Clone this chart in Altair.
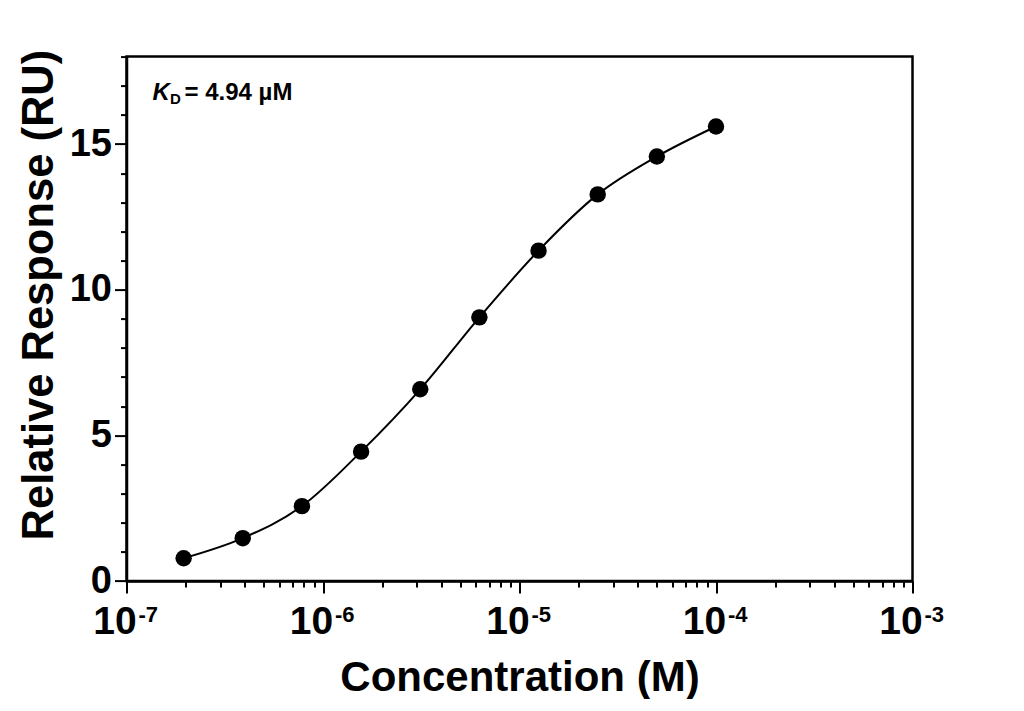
import altair as alt
import pandas as pd

# ---- data ----
conc_M = [1.953e-7, 3.906e-7, 7.8125e-7, 1.5625e-6, 3.125e-6,
          6.25e-6, 1.25e-5, 2.5e-5, 5e-5, 1e-4]
response_RU = [0.78, 1.47, 2.57, 4.44, 6.58, 9.05, 11.34, 13.27, 14.57, 15.6]

x_major = [1e-7, 1e-6, 1e-5, 1e-4, 1e-3]
x_exponents = ["-7", "-6", "-5", "-4", "-3"]
x_minor = [k * m for m in [1e-7, 1e-6, 1e-5, 1e-4] for k in range(2, 10)]
y_ticks = list(range(0, 19))

kd_main = ["K"]
kd_sub = ["D"]
kd_rest = ["= 4.94 µM"]

FONT = "Liberation Sans"
W, H = 786, 524.4

df = pd.DataFrame({"conc": conc_M, "resp": response_RU})
ticks_df = pd.DataFrame({"v": x_major, "e": x_exponents})

is_decade = "abs(log(datum.value)/LN10 - round(log(datum.value)/LN10)) < 0.001"

xscale = alt.Scale(type="log", domain=[1e-7, 1e-3], nice=False)
yscale = alt.Scale(domain=[0, 18], nice=False, zero=True)

xaxis = alt.Axis(
    values=sorted(x_major + x_minor),
    title="Concentration (M)",
    titleFontSize=42, titleFont=FONT, titleFontWeight="bold", titleColor="black",
    titleBaseline="alphabetic", titleY=109, titleX=W / 2,
    labelExpr=f"({is_decade}) ? '10' : ''",
    labelFontSize=39, labelFont=FONT, labelFontWeight="bold", labelColor="black",
    labelBaseline="alphabetic", labelPadding=40, labelOffset=-12,
    labelFlush=False, labelOverlap=False, labelBound=False,
    tickSize={"condition": {"test": is_decade, "value": 12}, "value": 6},
    tickWidth=2, tickColor="black",
    domainColor="black", domainWidth=2.5, grid=False,
)

yaxis = alt.Axis(
    values=y_ticks,
    title="Relative Response (RU)",
    titleFontSize=43.5, titleFont=FONT, titleFontWeight="bold", titleColor="black",
    titleAngle=270, titleBaseline="alphabetic", titleX=-74, titleY=238,
    labelExpr="datum.value % 5 == 0 ? datum.label : ''",
    labelFontSize=38, labelFont=FONT, labelFontWeight="bold", labelColor="black",
    labelPadding=3, labelFlush=False, labelOverlap=False,
    tickSize={"condition": {"test": "datum.value % 5 == 0", "value": 12}, "value": 6},
    tickWidth=2, tickColor="black",
    domainColor="black", domainWidth=2.5, grid=False,
)

X = alt.X("conc:Q", scale=xscale, axis=xaxis)
Y = alt.Y("resp:Q", scale=yscale, axis=yaxis)

base = alt.Chart(df)

curve = base.mark_line(color="black", strokeWidth=2, interpolate="monotone").encode(x=X, y=Y)

points = base.mark_circle(color="black", opacity=1, size=270).encode(x=X, y=Y)

exps = alt.Chart(ticks_df).mark_text(
    font=FONT, fontSize=22, fontWeight="bold", color="black",
    align="left", baseline="alphabetic", dx=12,
).encode(
    x=alt.X("v:Q", scale=xscale, axis=xaxis),
    y=alt.value(565),
    text="e:N",
)

kd1 = alt.Chart(pd.DataFrame({"t": kd_main})).mark_text(
    font=FONT, fontSize=24, fontWeight="bold", fontStyle="italic", color="black",
    align="left", baseline="alphabetic",
).encode(x=alt.value(26), y=alt.value(43.5), text="t:N")

kd2 = alt.Chart(pd.DataFrame({"t": kd_sub})).mark_text(
    font=FONT, fontSize=15, fontWeight="bold", color="black",
    align="left", baseline="alphabetic",
).encode(x=alt.value(43.5), y=alt.value(47), text="t:N")

kd3 = alt.Chart(pd.DataFrame({"t": kd_rest})).mark_text(
    font=FONT, fontSize=24, fontWeight="bold", color="black",
    align="left", baseline="alphabetic",
).encode(x=alt.value(58), y=alt.value(43.5), text="t:N")

chart = alt.layer(curve, points, exps, kd1, kd2, kd3).properties(
    width=W, height=H,
    autosize=alt.AutoSizeParams(type="none"),
    padding={"left": 118.5, "top": 48.6, "right": 96, "bottom": 118},
    background="white",
).configure_view(stroke="black", strokeWidth=2.5)

chart.save("out.html", embed_options={"renderer": "svg", "actions": False})
